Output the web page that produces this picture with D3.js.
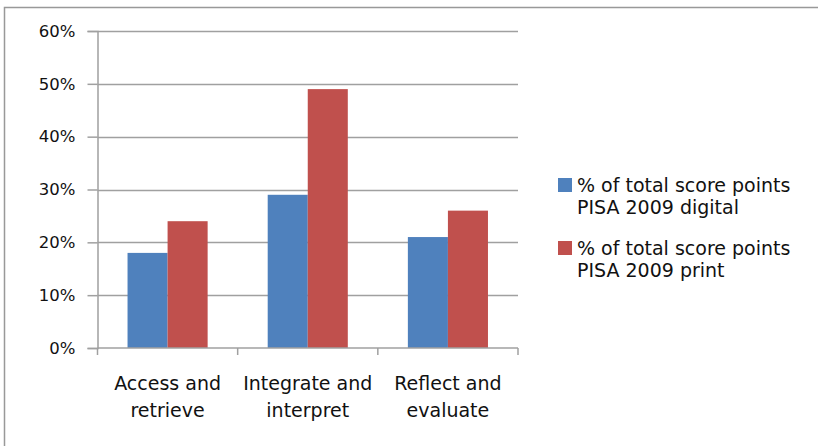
<!DOCTYPE html>
<html>
<head>
<meta charset="utf-8">
<script src="https://cdn.jsdelivr.net/npm/d3@7"></script>
<style>
  html, body { margin: 0; padding: 0; background: #fff; }
  svg { display: block; font-family: 'DejaVu Sans', sans-serif; }
</style>
</head>
<body>
<svg class="canvas" width="818" height="446"></svg>
<script>
'use strict';

const categories = [
  ['Access and', 'retrieve'],
  ['Integrate and', 'interpret'],
  ['Reflect and', 'evaluate'],
];
const digital = [18, 29, 21];
const print = [24, 49, 26];
const seriesNames = [
  ['% of total score points', 'PISA 2009 digital'],
  ['% of total score points', 'PISA 2009 print'],
];
const yTicks = [0, 10, 20, 30, 40, 50, 60];

const colors = ['#4f81bd', '#c0504d'],
  gridColor = '#a0a0a0',
  textColor = '#111';

const svg = d3.select('.canvas'),
  plot = { left: 97.5, right: 518, top: 31, bottom: 348 };

// frame round the chart area (top and left edges are visible)
svg.append('path')
  .attr('d', 'M4.5,446 V7.5 H818')
  .attr('fill', 'none')
  .attr('stroke', '#999')
  .attr('stroke-width', 1.5);

const x = d3.scaleBand()
    .domain(d3.range(categories.length))
    .range([plot.left, plot.right])
    .paddingInner(0)
    .paddingOuter(0),
  y = d3.scaleLinear([0, 60], [plot.bottom, plot.top]),
  // two bars per group, gap width ~150% of a bar
  barW = x.bandwidth() / 3.5,
  inner = d3.scaleBand().domain([0, 1]).range([0.75 * barW, 2.75 * barW]);

// gridlines
svg.append('g')
  .selectAll('line')
  .data(yTicks.filter(t => t > 0))
  .join('line')
  .attr('x1', plot.left)
  .attr('x2', plot.right)
  .attr('y1', d => Math.round(y(d)) + 0.5)
  .attr('y2', d => Math.round(y(d)) + 0.5)
  .attr('stroke', gridColor)
  .attr('stroke-width', 1.5);

// bars
const data = categories.map((c, i) => [digital[i], print[i]]);
svg.append('g')
  .selectAll('g')
  .data(data)
  .join('g')
  .attr('transform', (d, i) => `translate(${x(i)},0)`)
  .selectAll('rect')
  .data(d => d)
  .join('rect')
  .attr('x', (d, j) => inner(j))
  .attr('width', inner.bandwidth())
  .attr('y', d => y(d))
  .attr('height', d => y(0) - y(d))
  .attr('fill', (d, j) => colors[j]);

// y axis
const yAxis = d3.axisLeft(y)
  .tickValues(yTicks)
  .tickSize(10)
  .tickPadding(12)
  .tickFormat(d => d + '%');
const gy = svg.append('g')
  .attr('transform', `translate(${plot.left},0)`)
  .call(yAxis);
gy.select('.domain').attr('stroke', gridColor).attr('stroke-width', 1.5);
gy.selectAll('.tick line').attr('stroke', gridColor).attr('stroke-width', 1.5);
gy.selectAll('.tick text')
  .attr('font-size', 16.5)
  .attr('font-family', 'DejaVu Sans, sans-serif')
  .attr('fill', textColor);

// x axis: ticks sit on the band edges
const xEdges = d3.range(categories.length + 1).map(i => plot.left + i * x.bandwidth());
svg.append('line')
  .attr('x1', plot.left)
  .attr('x2', plot.right)
  .attr('y1', plot.bottom)
  .attr('y2', plot.bottom)
  .attr('stroke', gridColor)
  .attr('stroke-width', 1.5);
svg.append('g')
  .selectAll('line')
  .data(xEdges)
  .join('line')
  .attr('x1', d => d)
  .attr('x2', d => d)
  .attr('y1', plot.bottom)
  .attr('y2', plot.bottom + 7)
  .attr('stroke', gridColor)
  .attr('stroke-width', 1.5);

svg.append('g')
  .selectAll('text')
  .data(categories)
  .join('text')
  .attr('x', (d, i) => x(i) + x.bandwidth() / 2)
  .attr('y', 390)
  .attr('text-anchor', 'middle')
  .attr('font-size', 19)
  .attr('fill', textColor)
  .selectAll('tspan')
  .data(d => d)
  .join('tspan')
  .attr('x', function () { return this.parentNode.getAttribute('x'); })
  .attr('dy', (d, i) => (i ? 26.5 : 0))
  .text(d => d);

// legend
const legend = svg.append('g')
  .selectAll('g')
  .data(seriesNames)
  .join('g')
  .attr('transform', (d, i) => `translate(558,${185 + i * 63})`);
legend.append('rect')
  .attr('x', 0)
  .attr('y', -7)
  .attr('width', 14)
  .attr('height', 14)
  .attr('fill', (d, i) => colors[i]);
legend.append('text')
  .attr('x', 19)
  .attr('y', 6.5)
  .attr('font-size', 19)
  .attr('fill', textColor)
  .selectAll('tspan')
  .data(d => d)
  .join('tspan')
  .attr('x', 19)
  .attr('dy', (d, i) => (i ? 22 : 0))
  .text(d => d);
</script>
</body>
</html>
